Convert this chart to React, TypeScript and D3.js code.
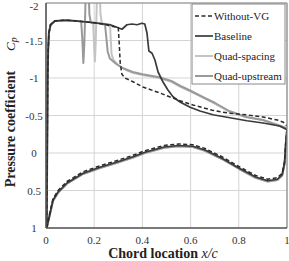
import React from "react";
import * as d3 from "d3";

// Chord stations (x/c) paired with pressure coefficient Cp
type Pt = [number, number];

const xTicks = [0, 0.2, 0.4, 0.6, 0.8, 1];
const yTicks = [-2, -1.5, -1, -0.5, 0, 0.5, 1];
const xTickLabels = ["0", "0.2", "0.4", "0.6", "0.8", "1"];
const yTickLabels = ["-2", "-1.5", "-1", "-0.5", "0", "0.5", "1"];

const seriesNames = ["Without-VG", "Baseline", "Quad-spacing", "Quad-upstream"];

// Common leading-edge suction rise and plateau
const leadingEdge: Pt[] = [
  [0.003, 1.0], [0.004, 0.5], [0.005, 0.0], [0.006, -0.5], [0.007, -1.0],
  [0.009, -1.37], [0.012, -1.6], [0.019, -1.71], [0.037, -1.76], [0.08, -1.77],
  [0.128, -1.76],
];

const withoutVgUpper: Pt[] = [
  ...leadingEdge,
  [0.19, -1.74], [0.24, -1.72], [0.27, -1.69], [0.29, -1.68], [0.3, -1.67],
  [0.304, -1.45], [0.308, -1.2], [0.315, -1.05], [0.328, -1.0], [0.361, -0.95],
  [0.402, -0.88], [0.473, -0.8], [0.544, -0.71], [0.61, -0.64], [0.69, -0.57],
  [0.76, -0.53], [0.83, -0.51], [0.9, -0.48], [0.96, -0.44], [0.985, -0.41],
  [1.0, -0.36],
];
const withoutVgLower: Pt[] = [
  [0.003, 1.0], [0.017, 0.78], [0.029, 0.61], [0.05, 0.5], [0.087, 0.38],
  [0.154, 0.25], [0.224, 0.17], [0.295, 0.1], [0.361, 0.03], [0.41, -0.03],
  [0.49, -0.1], [0.55, -0.12], [0.61, -0.11], [0.66, -0.06], [0.73, 0.05],
  [0.8, 0.18], [0.87, 0.3], [0.92, 0.35], [0.96, 0.33], [0.98, 0.27],
  [0.99, 0.11], [0.995, -0.15], [1.0, -0.33],
];

const baselineUpper: Pt[] = [
  ...leadingEdge,
  [0.19, -1.74], [0.24, -1.72], [0.266, -1.71], [0.3, -1.67], [0.315, -1.65],
  [0.336, -1.71], [0.357, -1.72], [0.378, -1.71], [0.398, -1.73], [0.41, -1.72],
  [0.419, -1.6], [0.427, -1.36], [0.44, -1.33], [0.452, -1.24], [0.465, -1.08],
  [0.485, -0.95], [0.506, -0.84], [0.527, -0.75], [0.556, -0.68], [0.598, -0.61],
  [0.639, -0.56], [0.693, -0.51], [0.763, -0.47], [0.834, -0.43], [0.9, -0.4],
  [0.97, -0.36], [1.0, -0.31],
];
const baselineLower: Pt[] = [
  [0.003, 1.0], [0.017, 0.8], [0.029, 0.63], [0.05, 0.52], [0.087, 0.4],
  [0.154, 0.27], [0.224, 0.19], [0.295, 0.12], [0.361, 0.05], [0.41, -0.01],
  [0.49, -0.08], [0.55, -0.1], [0.61, -0.09], [0.66, -0.04], [0.73, 0.07],
  [0.8, 0.2], [0.87, 0.32], [0.92, 0.37], [0.96, 0.35], [0.98, 0.29],
  [0.99, 0.13], [0.995, -0.13], [1.0, -0.31],
];

const quadSpacingUpper: Pt[] = [
  ...leadingEdge,
  [0.16, -1.75], [0.19, -1.74], [0.196, -1.72], [0.2, -1.4], [0.203, -1.22],
  [0.206, -1.45], [0.21, -1.9], [0.213, -2.3], [0.222, -2.3], [0.226, -1.85],
  [0.232, -1.73], [0.25, -1.72], [0.266, -1.71], [0.268, -1.55], [0.272, -1.32],
  [0.28, -1.24], [0.3, -1.17], [0.33, -1.11], [0.36, -1.07], [0.4, -1.04],
  [0.47, -1.0], [0.52, -0.95], [0.56, -0.88], [0.6, -0.82], [0.66, -0.73],
  [0.7, -0.66], [0.76, -0.55], [0.83, -0.48], [0.9, -0.44], [0.96, -0.38],
  [1.0, -0.33],
];
const quadSpacingLower: Pt[] = [
  [0.003, 1.0], [0.017, 0.81], [0.029, 0.64], [0.05, 0.53], [0.087, 0.41],
  [0.154, 0.28], [0.224, 0.2], [0.295, 0.13], [0.361, 0.06], [0.41, 0.0],
  [0.49, -0.07], [0.55, -0.09], [0.61, -0.08], [0.66, -0.03], [0.73, 0.08],
  [0.8, 0.21], [0.87, 0.33], [0.92, 0.38], [0.96, 0.36], [0.98, 0.3],
  [0.99, 0.14], [0.995, -0.12], [1.0, -0.3],
];

const quadUpstreamUpper: Pt[] = [
  ...leadingEdge,
  [0.146, -1.75], [0.151, -1.5], [0.155, -1.2], [0.159, -1.45], [0.163, -1.9],
  [0.166, -2.3], [0.176, -2.3], [0.18, -1.85], [0.186, -1.74], [0.22, -1.73],
  [0.245, -1.71], [0.25, -1.55], [0.256, -1.35], [0.265, -1.26], [0.29, -1.19],
  [0.32, -1.13], [0.36, -1.08], [0.4, -1.05], [0.47, -1.01], [0.52, -0.96],
  [0.56, -0.89], [0.6, -0.83], [0.66, -0.73], [0.7, -0.67], [0.76, -0.56],
  [0.83, -0.48], [0.9, -0.44], [0.96, -0.37], [1.0, -0.33],
];
const quadUpstreamLower: Pt[] = [
  [0.003, 1.0], [0.017, 0.81], [0.029, 0.64], [0.05, 0.53], [0.087, 0.41],
  [0.154, 0.28], [0.224, 0.2], [0.295, 0.13], [0.361, 0.06], [0.41, 0.0],
  [0.49, -0.07], [0.55, -0.09], [0.61, -0.08], [0.66, -0.03], [0.73, 0.08],
  [0.8, 0.21], [0.87, 0.33], [0.92, 0.38], [0.96, 0.36], [0.98, 0.3],
  [0.99, 0.14], [0.995, -0.12], [1.0, -0.3],
];

const W = 289;
const H = 261;
const plot = { left: 46, right: 287, top: 3, bottom: 228 };

const x = d3.scaleLinear().domain([0, 1]).range([plot.left, plot.right]);
const y = d3.scaleLinear().domain([-2, 1]).range([plot.top, plot.bottom]);

const line = d3
  .line<Pt>()
  .x((d) => x(d[0]))
  .y((d) => y(d[1]))
  .curve(d3.curveLinear);

const styles: Record<string, { stroke: string; width: number; dash?: string }> = {
  "Without-VG": { stroke: "#2a2a2a", width: 1.5, dash: "4,2.5" },
  Baseline: { stroke: "#3a3a3a", width: 1.7 },
  "Quad-spacing": { stroke: "#c4c4c4", width: 2 },
  "Quad-upstream": { stroke: "#999999", width: 2 },
};

const curves: { name: string; upper: Pt[]; lower: Pt[] }[] = [
  { name: "Quad-spacing", upper: quadSpacingUpper, lower: quadSpacingLower },
  { name: "Quad-upstream", upper: quadUpstreamUpper, lower: quadUpstreamLower },
  { name: "Baseline", upper: baselineUpper, lower: baselineLower },
  { name: "Without-VG", upper: withoutVgUpper, lower: withoutVgLower },
];

const serif = "'Liberation Serif', 'DejaVu Serif', serif";

export default function App() {
  const legend = { x: 192, y: 4, w: 93, h: 80 };
  return (
    <svg width={W} height={H} style={{ display: "block", position: "absolute", left: 0, top: 0 }} fontFamily={serif}>
      <rect x={0} y={0} width={W} height={H} fill="#fff" />
      <defs>
        <clipPath id="plotClip">
          <rect x={plot.left} y={plot.top} width={plot.right - plot.left} height={plot.bottom - plot.top} />
        </clipPath>
      </defs>
      {/* grid */}
      {xTicks.map((t) => (
        <line key={"gx" + t} x1={x(t)} x2={x(t)} y1={plot.top} y2={plot.bottom} stroke="#d4d4d4" strokeWidth={1} />
      ))}
      {yTicks.map((t) => (
        <line key={"gy" + t} x1={plot.left} x2={plot.right} y1={y(t)} y2={y(t)} stroke="#d4d4d4" strokeWidth={1} />
      ))}
      {/* curves */}
      <g clipPath="url(#plotClip)" fill="none" strokeLinejoin="round" strokeLinecap="round">
        {curves.map((c) => {
          const s = styles[c.name];
          return (
            <g key={c.name}>
              <path d={line(c.lower) || ""} stroke={s.stroke} strokeWidth={s.width} strokeDasharray={s.dash} strokeLinecap={s.dash ? "butt" : "round"} />
              <path d={line(c.upper) || ""} stroke={s.stroke} strokeWidth={s.width} strokeDasharray={s.dash} strokeLinecap={s.dash ? "butt" : "round"} />
            </g>
          );
        })}
      </g>
      {/* frame */}
      <line x1={plot.left} x2={plot.right} y1={plot.top} y2={plot.top} stroke="#8a8a8a" strokeWidth={1.2} />
      <line x1={plot.right} x2={plot.right} y1={plot.top} y2={plot.bottom} stroke="#8a8a8a" strokeWidth={1.2} />
      <line x1={plot.left} x2={plot.left} y1={plot.top} y2={plot.bottom} stroke="#555" strokeWidth={1.6} />
      <line x1={plot.left} x2={plot.right} y1={plot.bottom} y2={plot.bottom} stroke="#555" strokeWidth={1.6} />
      {/* tick labels */}
      {xTicks.map((t, i) => (
        <text key={"tx" + t} x={x(t)} y={243.5} textAnchor="middle" fontSize={11} fill="#333">
          {xTickLabels[i]}
        </text>
      ))}
      {yTicks.map((t, i) => (
        <text key={"ty" + t} x={34} y={Math.max(y(t) + 4, 10)} textAnchor="middle" fontSize={11} fill="#333">
          {yTickLabels[i]}
        </text>
      ))}
      {/* axis titles */}
      <text x={163} y={258} textAnchor="middle" fontSize={14} fontWeight="bold" fill="#222">
        Chord location <tspan fontStyle="italic" fontWeight="normal">x/c</tspan>
      </text>
      <text transform="translate(15,129) rotate(-90)" textAnchor="middle" fontSize={14} fontWeight="bold" fill="#222">
        Pressure coefficient
      </text>
      <text transform="translate(15,51) rotate(-90)" fontSize={13} fontStyle="italic" fill="#222">
        C<tspan fontSize={10} dy={2}>p</tspan>
      </text>
      {/* legend */}
      <rect x={legend.x} y={legend.y} width={legend.w} height={legend.h} fill="#fff" stroke="#888" strokeWidth={1} />
      {seriesNames.map((n, i) => {
        const s = styles[n];
        const ly = 16 + i * 20;
        return (
          <g key={"lg" + n}>
            <line x1={195} x2={213} y1={ly} y2={ly} stroke={s.stroke} strokeWidth={s.width} strokeDasharray={s.dash} />
            <text x={214} y={ly + 4} fontSize={11} fill="#222">
              {n}
            </text>
          </g>
        );
      })}
    </svg>
  );
}
